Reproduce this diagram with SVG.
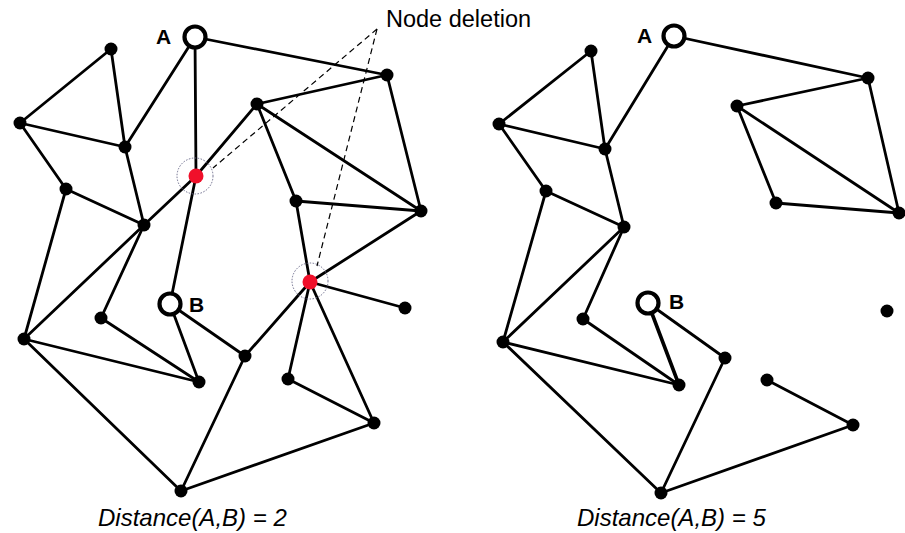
<svg xmlns="http://www.w3.org/2000/svg" width="905" height="533" viewBox="0 0 905 533">
<style>
.e{stroke:#000;stroke-width:2.8;fill:none;stroke-linecap:round}
.d{fill:#000}
.o{fill:#fff;stroke:#000;stroke-width:4.2}
.r{fill:#f0102a}
.ring{fill:none;stroke:#6a6a8a;stroke-width:1;stroke-dasharray:1.5 1.5}
.dash{stroke:#000;stroke-width:1.2;stroke-dasharray:6 4;fill:none}
.lab{font-family:"Liberation Sans",Arial,sans-serif;font-weight:bold;font-size:21px;fill:#000}
.cap{font-family:"Liberation Sans",Arial,sans-serif;font-style:italic;font-size:24px;fill:#000}
.ttl{font-family:"Liberation Sans",Arial,sans-serif;font-size:23.5px;fill:#000}
</style>
<rect width="905" height="533" fill="#fff"/>
<g id="connectors">
<g id="left-edges" class="e">
<line x1="195" y1="37" x2="387" y2="75"/>
<line x1="195" y1="37" x2="196" y2="176"/>
<line x1="195" y1="37" x2="125" y2="147"/>
<line x1="111" y1="49" x2="20" y2="123"/>
<line x1="111" y1="49" x2="125" y2="147"/>
<line x1="20" y1="123" x2="125" y2="147"/>
<line x1="20" y1="123" x2="66" y2="189"/>
<line x1="125" y1="147" x2="144" y2="225"/>
<line x1="66" y1="189" x2="144" y2="225"/>
<line x1="66" y1="189" x2="24" y2="339"/>
<line x1="144" y1="225" x2="196" y2="176"/>
<line x1="196" y1="176" x2="257" y2="104"/>
<line x1="196" y1="176" x2="170" y2="304"/>
<line x1="257" y1="104" x2="387" y2="75"/>
<line x1="257" y1="104" x2="296" y2="201"/>
<line x1="257" y1="104" x2="421" y2="211"/>
<line x1="387" y1="75" x2="421" y2="211"/>
<line x1="296" y1="201" x2="421" y2="211"/>
<line x1="296" y1="201" x2="310" y2="282"/>
<line x1="421" y1="211" x2="310" y2="282"/>
<line x1="310" y1="282" x2="405" y2="308"/>
<line x1="310" y1="282" x2="245" y2="356"/>
<line x1="310" y1="282" x2="288" y2="379"/>
<line x1="310" y1="282" x2="374" y2="423"/>
<line x1="288" y1="379" x2="374" y2="423"/>
<line x1="374" y1="423" x2="181" y2="491"/>
<line x1="245" y1="356" x2="181" y2="491"/>
<line x1="245" y1="356" x2="170" y2="304"/>
<line x1="170" y1="304" x2="199" y2="382"/>
<line x1="101" y1="318" x2="199" y2="382"/>
<line x1="101" y1="318" x2="144" y2="225"/>
<line x1="24" y1="339" x2="144" y2="225"/>
<line x1="24" y1="339" x2="199" y2="382"/>
<line x1="24" y1="339" x2="181" y2="491"/>
</g>
<g id="right-edges" class="e">
<line x1="674" y1="36" x2="868" y2="78"/>
<line x1="674" y1="36" x2="605" y2="149"/>
<line x1="591" y1="51" x2="499" y2="124"/>
<line x1="591" y1="51" x2="605" y2="149"/>
<line x1="499" y1="124" x2="605" y2="149"/>
<line x1="499" y1="124" x2="546" y2="191"/>
<line x1="605" y1="149" x2="624" y2="227"/>
<line x1="546" y1="191" x2="624" y2="227"/>
<line x1="546" y1="191" x2="503" y2="342"/>
<line x1="624" y1="227" x2="583" y2="319"/>
<line x1="624" y1="227" x2="503" y2="342"/>
<line x1="737" y1="106" x2="868" y2="78"/>
<line x1="737" y1="106" x2="776" y2="203"/>
<line x1="737" y1="106" x2="899" y2="213"/>
<line x1="868" y1="78" x2="899" y2="213"/>
<line x1="776" y1="203" x2="899" y2="213"/>
<line x1="648" y1="303" x2="679" y2="385" stroke-width="3.6"/>
<line x1="648" y1="303" x2="725" y2="358"/>
<line x1="583" y1="319" x2="679" y2="385"/>
<line x1="503" y1="342" x2="679" y2="385"/>
<line x1="503" y1="342" x2="661" y2="493"/>
<line x1="725" y1="358" x2="661" y2="493"/>
<line x1="767" y1="380" x2="853" y2="425"/>
<line x1="853" y1="425" x2="661" y2="493"/>
</g>
<g id="deletion-pointers" class="dash">
<line x1="377" y1="29" x2="213" y2="168"/>
<line x1="377" y1="29" x2="317" y2="266"/>
</g>
</g>
<g id="left-graph">
<g id="L-A"><circle class="o" cx="195" cy="37" r="10.5"/><text class="lab" x="156" y="44">A</text></g>
<g id="L-n1"><circle class="d" cx="111" cy="49" r="6.5"/></g>
<g id="L-n2"><circle class="d" cx="20" cy="123" r="6.5"/></g>
<g id="L-n3"><circle class="d" cx="125" cy="147" r="6.5"/></g>
<g id="L-n4"><circle class="d" cx="66" cy="189" r="6.5"/></g>
<g id="L-n5"><circle class="d" cx="144" cy="225" r="6.5"/></g>
<g id="L-del1"><circle class="ring" cx="195" cy="176" r="18"/><circle class="r" cx="196" cy="176" r="7.5"/></g>
<g id="L-n6"><circle class="d" cx="257" cy="104" r="6.5"/></g>
<g id="L-n7"><circle class="d" cx="387" cy="75" r="6.5"/></g>
<g id="L-n8"><circle class="d" cx="296" cy="201" r="6.5"/></g>
<g id="L-n9"><circle class="d" cx="421" cy="211" r="6.5"/></g>
<g id="L-del2"><circle class="ring" cx="310" cy="281" r="18" stroke="#5a8aa0"/><circle class="r" cx="310" cy="282" r="7.5"/></g>
<g id="L-n10"><circle class="d" cx="405" cy="308" r="6.5"/></g>
<g id="L-n11"><circle class="d" cx="245" cy="356" r="6.5"/></g>
<g id="L-n12"><circle class="d" cx="288" cy="379" r="6.5"/></g>
<g id="L-n13"><circle class="d" cx="374" cy="423" r="6.5"/></g>
<g id="L-B"><circle class="o" cx="170" cy="304" r="10.5"/><text class="lab" x="189" y="312">B</text></g>
<g id="L-n14"><circle class="d" cx="101" cy="318" r="6.5"/></g>
<g id="L-n15"><circle class="d" cx="24" cy="339" r="6.5"/></g>
<g id="L-n16"><circle class="d" cx="199" cy="382" r="6.5"/></g>
<g id="L-n17"><circle class="d" cx="181" cy="491" r="6.5"/></g>
</g>
<g id="right-graph">
<g id="R-A"><circle class="o" cx="674" cy="36" r="10.5"/><text class="lab" x="637" y="43">A</text></g>
<g id="R-n1"><circle class="d" cx="591" cy="51" r="6.5"/></g>
<g id="R-n2"><circle class="d" cx="499" cy="124" r="6.5"/></g>
<g id="R-n3"><circle class="d" cx="605" cy="149" r="6.5"/></g>
<g id="R-n4"><circle class="d" cx="546" cy="191" r="6.5"/></g>
<g id="R-n5"><circle class="d" cx="624" cy="227" r="6.5"/></g>
<g id="R-n6"><circle class="d" cx="737" cy="106" r="6.5"/></g>
<g id="R-n7"><circle class="d" cx="868" cy="78" r="6.5"/></g>
<g id="R-n8"><circle class="d" cx="776" cy="203" r="6.5"/></g>
<g id="R-n9"><circle class="d" cx="899" cy="213" r="6.5"/></g>
<g id="R-n10"><circle class="d" cx="887" cy="311" r="6.5"/></g>
<g id="R-n11"><circle class="d" cx="725" cy="358" r="6.5"/></g>
<g id="R-n12"><circle class="d" cx="767" cy="380" r="6.5"/></g>
<g id="R-n13"><circle class="d" cx="853" cy="425" r="6.5"/></g>
<g id="R-B"><circle class="o" cx="648" cy="303" r="10.5"/><text class="lab" x="669" y="309">B</text></g>
<g id="R-n14"><circle class="d" cx="583" cy="319" r="6.5"/></g>
<g id="R-n15"><circle class="d" cx="503" cy="342" r="6.5"/></g>
<g id="R-n16"><circle class="d" cx="679" cy="385" r="6.5"/></g>
<g id="R-n17"><circle class="d" cx="661" cy="493" r="6.5"/></g>
</g>
<g id="labels">
<text class="ttl" x="386" y="27">Node deletion</text>
<text class="cap" x="98" y="526">Distance(A,B) = 2</text>
<text class="cap" x="577" y="526">Distance(A,B) = 5</text>
</g>
</svg>
